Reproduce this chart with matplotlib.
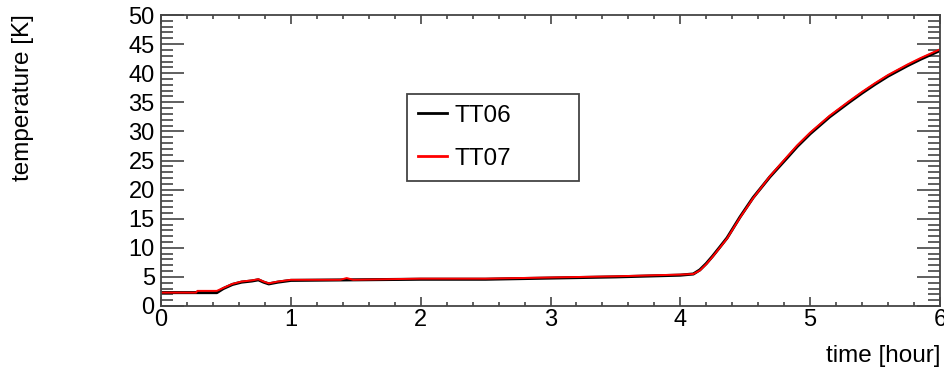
import matplotlib
matplotlib.use('Agg')
import matplotlib.pyplot as plt
from matplotlib.ticker import MultipleLocator

plt.rcParams['font.family'] = ['Liberation Sans', 'DejaVu Sans']

# TT06 readings (black)
t06 = [0, 0.43, 0.48, 0.55, 0.62, 0.70, 0.75, 0.79, 0.83, 0.90, 1.0, 1.5, 2.0,
       2.5, 3.0, 3.5, 4.0, 4.1, 4.15, 4.2, 4.25, 4.3, 4.36, 4.46, 4.56, 4.69,
       4.82, 4.9, 5.0, 5.15, 5.3, 5.4, 5.5, 5.6, 5.75, 5.85, 6.0]
v06 = [2.3, 2.3, 3.0, 3.7, 4.1, 4.3, 4.5, 4.1, 3.8, 4.1, 4.4, 4.5, 4.6,
       4.6, 4.8, 5.0, 5.3, 5.5, 6.2, 7.3, 8.6, 10.0, 11.7, 15.3, 18.6, 22.2,
       25.4, 27.4, 29.6, 32.5, 35.0, 36.6, 38.1, 39.5, 41.3, 42.4, 43.9]

# TT07 readings (red)
t07 = [0, 0.27, 0.28, 0.43, 0.48, 0.55, 0.62, 0.70, 0.75, 0.79, 0.83, 0.90,
       1.0, 1.38, 1.43, 1.48, 2.0, 2.5, 3.0, 3.5, 4.0, 4.1, 4.15, 4.2, 4.25,
       4.3, 4.36, 4.46, 4.56, 4.69, 4.82, 4.9, 5.0, 5.15, 5.3, 5.4, 5.5, 5.6,
       5.75, 5.85, 6.0]
v07 = [2.3, 2.3, 2.6, 2.6, 3.1, 3.8, 4.2, 4.4, 4.6, 4.2, 3.9, 4.2,
       4.5, 4.5, 4.8, 4.5, 4.7, 4.7, 4.9, 5.1, 5.4, 5.5, 6.1, 7.2, 8.5,
       9.9, 11.6, 15.2, 18.5, 22.3, 25.6, 27.6, 29.8, 32.7, 35.2, 36.8, 38.3, 39.7,
       41.5, 42.6, 44.1]

fig = plt.figure(figsize=(9.44, 3.73), dpi=100)
ax = fig.add_axes([161 / 944, 67 / 373, 779 / 944, 291 / 373])

ax.plot(t06, v06, color='black', linewidth=2.2, label='TT06')
ax.plot(t07, v07, color='#ff0000', linewidth=1.4, label='TT07')

ax.set_xlim(0, 6)
ax.set_ylim(0, 50)
ax.xaxis.set_major_locator(MultipleLocator(1))
ax.xaxis.set_minor_locator(MultipleLocator(0.2))
ax.yaxis.set_major_locator(MultipleLocator(5))
ax.yaxis.set_minor_locator(MultipleLocator(1))

ax.tick_params(axis='both', which='both', direction='in', top=True, right=True,
               color='#444444', width=1.2, labelsize=17)
ax.tick_params(axis='x', which='major', length=6.5, pad=2)
ax.tick_params(axis='x', which='minor', length=3.2)
ax.tick_params(axis='y', which='major', length=16.5, pad=4.5)
ax.tick_params(axis='y', which='minor', length=8.6)
for s in ax.spines.values():
    s.set_color('#444444')
    s.set_linewidth(1.3)

fig.text(940 / 944, 1 - 356 / 373, 'time [hour]', ha='right', va='center', fontsize=17.5)
fig.text(23 / 944, 1 - 98 / 373, 'temperature [K]', ha='center', va='center',
         rotation=90, fontsize=17.5)

leg = ax.legend(loc='upper left',
                bbox_to_anchor=((407 - 161) / 779, (306 - 94) / 291 - 0.01, 172 / 779, 0.01),
                mode='expand', fontsize=17.5, fancybox=False, framealpha=1,
                edgecolor='#444444', handlelength=1.2, handletextpad=0.3,
                borderpad=0.45, labelspacing=0.85, borderaxespad=0)
leg.get_frame().set_linewidth(1.3)
for line in leg.get_lines():
    line.set_linewidth(2)

fig.savefig('out.png', dpi=100)
